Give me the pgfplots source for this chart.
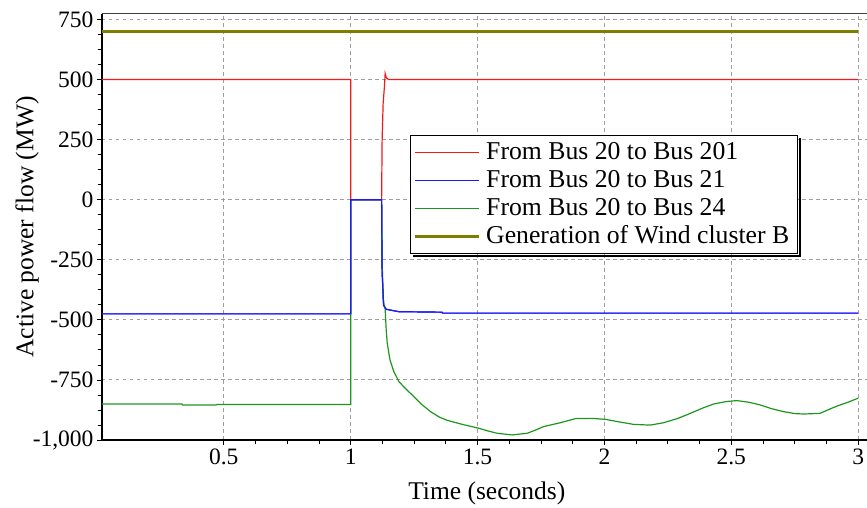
\documentclass[border=0pt]{standalone}
\usepackage{fontspec}
\setmainfont{Liberation Serif}
\usepackage{pgfplots}
\pgfplotsset{compat=1.18}
\usepackage{pgfplotstable}
\definecolor{cred}{RGB}{245,25,25}
\definecolor{cblue}{RGB}{25,25,250}
\definecolor{cgreen}{RGB}{30,150,30}
\definecolor{colive}{RGB}{125,125,0}

\pgfplotstableread{
t v
0.02 500
1.0 500
1.0 0
1.122 0
1.124 250
1.128 400
1.133 470
1.136 525
1.139 512
1.143 505
1.15 500
3.0 500
}\reddata

\pgfplotstableread{
t v
0.02 -475
1.0 -475
1.0 0
1.122 0
1.124 -300
1.13 -440
1.14 -456
1.19 -466
1.36 -468
1.362 -472
3.0 -472
}\bluedata

\pgfplotstableread{
t v
0.02 -850
0.335 -850
0.337 -854
0.47 -854
0.472 -852
1.0 -852
1.0 0
1.122 0
1.124 -250
1.128 -420
1.136 -455
1.14 -540
1.144 -596
1.155 -667
1.17 -715
1.19 -757
1.22 -790
1.249 -819
1.28 -852
1.315 -882
1.35 -905
1.38 -918
1.44 -935
1.505 -951
1.54 -962
1.577 -972
1.636 -979
1.696 -972
1.73 -958
1.761 -944
1.827 -928
1.886 -911
1.95 -910
2.004 -914
2.06 -925
2.115 -935
2.181 -938
2.234 -928
2.29 -910
2.339 -889
2.39 -866
2.431 -850
2.48 -840
2.522 -836
2.57 -843
2.614 -854
2.66 -870
2.706 -882
2.75 -890
2.785 -892
2.85 -889
2.9 -866
2.929 -854
2.96 -843
3.0 -826
}\greendata

\pgfplotstableread{
t v
0.02 700
3.0 700
}\olivedata

\begin{document}
\begin{tikzpicture}
\useasboundingbox (-102pt,-68pt) rectangle (765pt,440pt);
\begin{axis}[
  name=ax,
  at={(0,0)}, anchor=south west,
  scale only axis, width=765pt, height=426pt,
  xmin=0.02, xmax=3.035, ymin=-1000, ymax=773,
  axis x line*=bottom, axis y line*=left,
  axis line style={-, black, line width=2pt},
  xtick={0.5,1,1.5,2,2.5,3},
  ytick={-1000,-750,...,750},
  minor x tick num=3, minor y tick num=3,
  tick align=outside,
  major tick length=5pt, minor tick length=4pt,
  every tick/.style={black, line width=0.8pt},
  grid=major,
  major grid style={gray!75, line width=0.9pt, dash pattern=on 3.5pt off 3.5pt},
  tick label style={font=\fontsize{23.5}{28}\selectfont},
  /pgf/number format/assume math mode=true,
  ylabel={Active power flow (MW)},
  xlabel={Time (seconds)},
  label style={font=\fontsize{25.5}{30}\selectfont},
  ylabel style={at={(axis description cs:-0.098,0.5)}, anchor=center},
  xlabel style={at={(axis description cs:0.503,-0.1244)}, anchor=center},
  legend style={name=leg, at={(axis description cs:0.4026,0.716)}, anchor=north west,
    draw=black, line width=1.5pt, fill=white,
    font=\fontsize{25.7}{30}\selectfont, inner sep=3pt,
    nodes={inner xsep=5.5pt, inner ysep=2pt, text height=18.3pt, text depth=5.7pt}},
  legend cell align=left,
  legend image code/.code={\draw[#1] (0pt,0pt) -- (64pt,0pt);},
]
\addplot[cred, line width=1.2pt] table[x=t,y=v] {\reddata};
\addlegendentry{From Bus 20 to Bus 201}
\addplot[cblue, line width=1.2pt] table[x=t,y=v] {\bluedata};
\addlegendentry{From Bus 20 to Bus 21}
\addplot[cgreen, line width=1.2pt] table[x=t,y=v] {\greendata};
\addlegendentry{From Bus 20 to Bus 24}
\addplot[colive, line width=3pt] table[x=t,y=v] {\olivedata};
\addlegendentry{Generation of Wind cluster B}
\addplot[cblue, line width=1.2pt, forget plot] table[x=t,y=v] {\bluedata};
\end{axis}
\draw[black!75, line width=1pt] (ax.north west) -- (ax.north east);
\draw[black, line width=2pt] ([xshift=3pt,yshift=-1.75pt]leg.south west) -- ([xshift=1.75pt,yshift=-1.75pt]leg.south east) -- ([xshift=1.75pt,yshift=-3pt]leg.north east);
\end{tikzpicture}
\end{document}
